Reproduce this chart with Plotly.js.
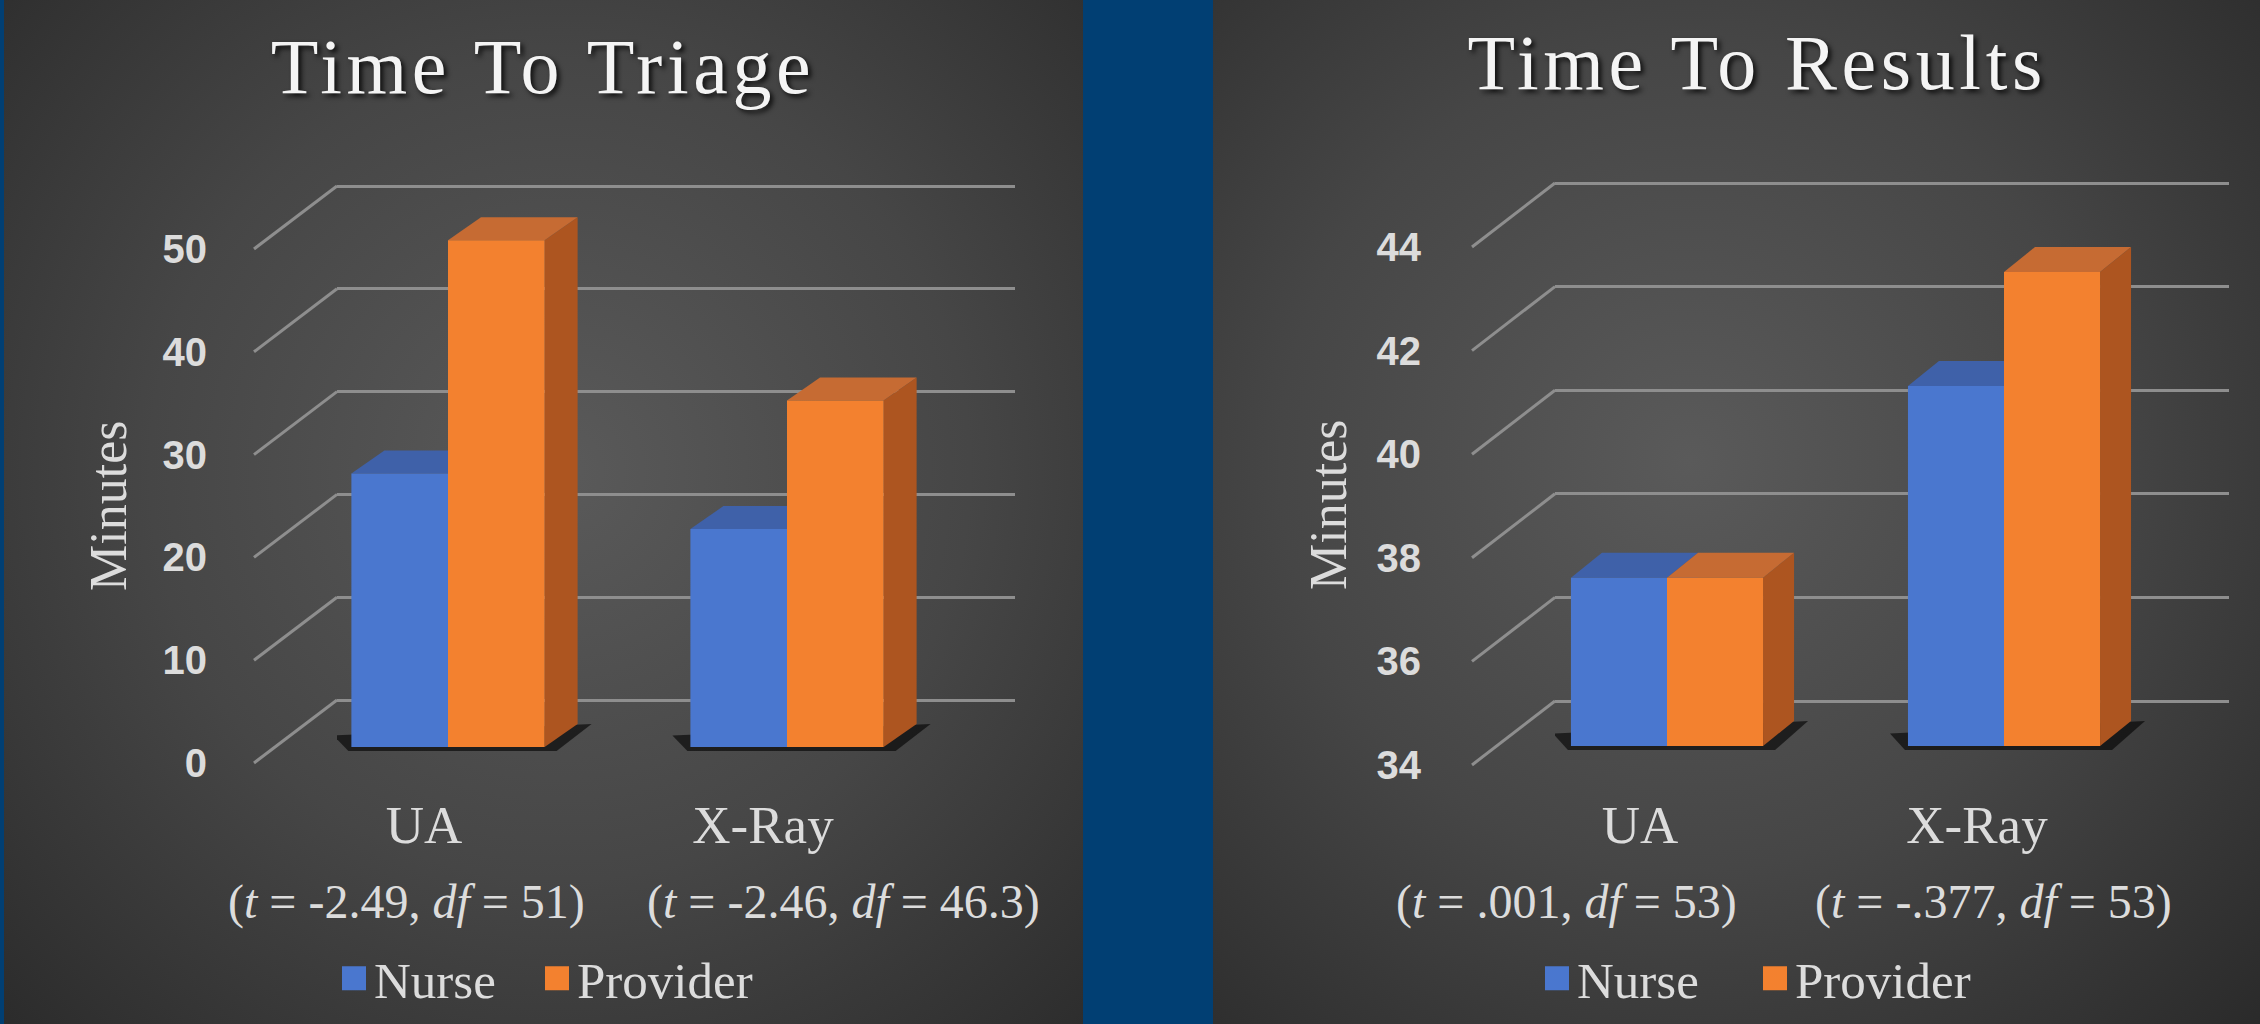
<!DOCTYPE html>
<html>
<head>
<meta charset="utf-8">
<script src="https://cdn.plot.ly/plotly-3.0.1.min.js"></script>
<style>
  html, body { margin: 0; padding: 0; background: #013f73; }
  #chart { width: 2260px; height: 1024px; }
  .annotation[data-index="0"] text, .annotation[data-index="1"] text { letter-spacing: 4.6px; }
</style>
</head>
<body>
<div id="chart"></div>
<script>
// ---------------- data ----------------
const categories = ['UA', 'X-Ray'];
const seriesNames = ['Nurse', 'Provider'];
const titles = ['Time To Triage', 'Time To Results'];
const yTitle = 'Minutes';

const triageNurse = [26.6, 21.2];
const triageProvider = [49.3, 33.7];
const triageTicks = [0, 10, 20, 30, 40, 50];
const triageStats = ['(<i>t</i> = -2.49, <i>df</i> = 51)', '(<i>t</i> = -2.46, <i>df</i> = 46.3)'];

const resultsNurse = [37.25, 40.95];
const resultsProvider = [37.25, 43.15];
const resultsTicks = [34, 36, 38, 40, 42, 44];
const resultsStats = ['(<i>t</i> = .001, <i>df</i> = 53)', '(<i>t</i> = -.377, <i>df</i> = 53)'];

// ---------------- styles / geometry ----------------
const W = 2260, H = 1024;
const DOMAIN_TOP_PX = 170, DOMAIN_BOTTOM_PX = 780;
const BARGAP = 0.43;
const GRID_COLOR = '#8e8e8e';
const TEXT_COLOR = '#dcdcdc';
const TITLE_COLOR = '#f4f4f4';
const SERIF = '"Liberation Serif", "Times New Roman", serif';
const SANS = '"Liberation Sans", Arial, sans-serif';
const COLORS = [
  { front: '#4a77cf', top: '#3f61a9', side: '#2f4f8f' },
  { front: '#f3812f', top: '#c66b33', side: '#ad5520' }
];

const geom = [
  { gridLeft: 337, gridRight: 1015, frontX: 254, backMinPx: 700, frontMinPx: 763, barMinPx: 747,
    pxPerUnit: 10.28, firstCatPx: 448, catPx: 339, depthX: 33, depthY: 23, labelShift: -24,
    tickRightPx: 207, titleX: 543, titleY: 66, yTitleX: 108, yTitleY: 506,
    statXs: [406, 843], statY: 902, legendX: 334, legendNurseWidth: 158,
    bgLeft: 4, bgRight: 1083, bgCx: 556, bgCy: 470 },
  { gridLeft: 1555, gridRight: 2229, frontX: 1472, backMinPx: 701, frontMinPx: 765, barMinPx: 746,
    pxPerUnit: 51.8, firstCatPx: 1667, catPx: 337, depthX: 31, depthY: 25, labelShift: -27,
    tickRightPx: 1421, titleX: 1757, titleY: 62, yTitleX: 1328, yTitleY: 505,
    statXs: [1566, 1993], statY: 902, legendX: 1537, legendNurseWidth: 173,
    bgLeft: 1213, bgRight: 2260, bgCx: 477, bgCy: 460 }
];

const charts = [
  { title: titles[0], ticks: triageTicks, series: [triageNurse, triageProvider], stats: triageStats,
    x: 'x', gy: 'y', by: 'y3', legend: 'legend' },
  { title: titles[1], ticks: resultsTicks, series: [resultsNurse, resultsProvider], stats: resultsStats,
    x: 'x2', gy: 'y2', by: 'y4', legend: 'legend2' }
];

function panelBackground(w, h, cx, cy, r) {
  const c = document.createElement('canvas');
  c.width = w; c.height = h;
  const g = c.getContext('2d');
  const grd = g.createRadialGradient(cx, cy, 0, cx, cy, r);
  grd.addColorStop(0, '#5a5a5a');
  grd.addColorStop(0.5, '#464646');
  grd.addColorStop(1, '#292929');
  g.fillStyle = grd;
  g.fillRect(0, 0, w, h);
  return c.toDataURL('image/png');
}

const traces = [];
const shapes = [];
const annotations = [];
const images = [];
const layout = {
  width: W, height: H, autosize: false,
  margin: { l: 0, r: 0, t: 0, b: 0, pad: 0 },
  paper_bgcolor: '#013f73',
  plot_bgcolor: 'rgba(0,0,0,0)',
  barmode: 'group', bargap: BARGAP, bargroupgap: 0,
  hovermode: false,
  showlegend: true
};

const yDomain = [1 - DOMAIN_BOTTOM_PX / H, 1 - DOMAIN_TOP_PX / H];

charts.forEach((ch, k) => {
  const g = geom[k];
  const axisMin = ch.ticks[0];
  const gridVal = px => axisMin + (g.backMinPx - px) / g.pxPerUnit;
  const barVal = px => axisMin + (g.barMinPx - px) / g.pxPerUnit;
  // bar-plane value -> grid (back wall) axis value
  const barToGrid = v => v - (g.barMinPx - g.backMinPx) / g.pxPerUnit;
  const r0 = -(g.firstCatPx - g.gridLeft) / g.catPx;
  const r1 = r0 + (g.gridRight - g.gridLeft) / g.catPx;
  const xKey = 'xaxis' + (ch.x === 'x' ? '' : ch.x.slice(1));
  const gyKey = 'yaxis' + (ch.gy === 'y' ? '' : ch.gy.slice(1));
  const byKey = 'yaxis' + ch.by.slice(1);

  layout[xKey] = {
    domain: [g.gridLeft / W, g.gridRight / W], anchor: ch.gy,
    type: 'category', categoryorder: 'array', categoryarray: categories,
    range: [r0, r1], showgrid: false, zeroline: false, showline: false, ticks: '',
    tickfont: { family: SERIF, size: 53, color: TEXT_COLOR },
    ticklabelshift: g.labelShift, ticklabelstandoff: 9, fixedrange: true
  };
  layout[gyKey] = {
    domain: yDomain, anchor: ch.x, range: [gridVal(DOMAIN_BOTTOM_PX), gridVal(DOMAIN_TOP_PX)],
    tickmode: 'array', tickvals: ch.ticks, ticktext: ch.ticks.map(String),
    showgrid: true, gridcolor: GRID_COLOR, gridwidth: 3, zeroline: false, showline: false, ticks: '',
    tickfont: { family: SANS, size: 40, color: TEXT_COLOR, weight: 700 },
    ticklabelshift: (g.frontMinPx - g.backMinPx),
    ticklabelstandoff: g.gridLeft - g.tickRightPx - 1, fixedrange: true
  };
  layout[byKey] = {
    overlaying: ch.gy, anchor: ch.x, visible: false,
    range: [barVal(DOMAIN_BOTTOM_PX), barVal(DOMAIN_TOP_PX)], fixedrange: true
  };

  // bars
  ch.series.forEach((vals, s) => {
    const tr = {
      type: 'bar', name: seriesNames[s], x: categories,
      y: vals.map(v => v - axisMin), base: axisMin,
      xaxis: ch.x, yaxis: ch.by, legend: ch.legend,
      marker: { color: COLORS[s].front, line: { width: 0 } }
    };
    if (s === 0) tr.legendwidth = g.legendNurseWidth;
    traces.push(tr);
  });

  // diagonal part of the 3-D gridlines (back wall -> front floor edge)
  const drop = (g.frontMinPx - g.backMinPx) / g.pxPerUnit;
  ch.ticks.forEach(v => {
    shapes.push({ type: 'line', layer: 'below', xref: 'paper', yref: ch.gy,
      x0: g.frontX / W, y0: v - drop, x1: g.gridLeft / W, y1: v,
      line: { color: GRID_COLOR, width: 3 } });
  });

  // 3-D faces of the bars (drawn between gridlines and bars)
  const wBar = (1 - BARGAP) / 2;
  const ddx = g.depthX / g.catPx;
  const ddy = g.depthY / g.pxPerUnit;
  const pxX = 1 / g.catPx, pxY = 1 / g.pxPerUnit;
  categories.forEach((c, i) => {
    const xl = i - wBar, xr = i + wBar, b = barToGrid(axisMin);
    shapes.push({ type: 'path', layer: 'between', xref: ch.x, yref: ch.gy,
      path: `M${xl - 3 * pxX},${b - 4 * pxY} L${xr + 12 * pxX},${b - 4 * pxY} ` +
            `L${xr + ddx + 14 * pxX},${b + ddy} L${xl - 18 * pxX},${b + 0.5 * ddy} Z`,
      fillcolor: 'rgba(0,0,0,0.6)', line: { width: 0 } });
  });
  ch.series.forEach((vals, s) => {
    vals.forEach((v, i) => {
      const xl = i - wBar + s * wBar, xr = xl + wBar, b = barToGrid(axisMin), t = barToGrid(v);
      shapes.push({ type: 'path', layer: 'between', xref: ch.x, yref: ch.gy,
        path: `M${xr},${b} L${xr + ddx},${b + ddy} L${xr + ddx},${t + ddy} L${xr},${t} Z`,
        fillcolor: COLORS[s].side, line: { width: 0 } });
      shapes.push({ type: 'path', layer: 'between', xref: ch.x, yref: ch.gy,
        path: `M${xl},${t} L${xr},${t} L${xr + ddx},${t + ddy} L${xl + ddx},${t + ddy} Z`,
        fillcolor: COLORS[s].top, line: { width: 0 } });
    });
  });

  // legend
  layout[ch.legend] = {
    orientation: 'h', x: g.legendX / W, xanchor: 'left', y: 1 - 938.5 / H, yanchor: 'top',
    font: { family: SERIF, size: 51, color: TEXT_COLOR },
    bgcolor: 'rgba(0,0,0,0)', borderwidth: 0, itemclick: false, itemdoubleclick: false
  };

  // background panel
  images.push({ source: panelBackground(g.bgRight - g.bgLeft, H, g.bgCx, g.bgCy, 820),
    xref: 'paper', yref: 'paper', x: g.bgLeft / W, y: 1, sizex: (g.bgRight - g.bgLeft) / W, sizey: 1,
    xanchor: 'left', yanchor: 'top', sizing: 'stretch', layer: 'below' });
});

// annotations: titles (0,1), y titles (2,3), stats (4-7)
charts.forEach((ch, k) => {
  const g = geom[k];
  annotations[k] = { text: ch.title, xref: 'paper', yref: 'paper', x: g.titleX / W, y: 1 - g.titleY / H,
    xanchor: 'center', yanchor: 'middle', showarrow: false,
    font: { family: SERIF, size: 78, color: TITLE_COLOR, shadow: '3px 3px 5px rgba(0,0,0,0.8)' } };
  annotations[2 + k] = { text: yTitle, xref: 'paper', yref: 'paper', x: g.yTitleX / W, y: 1 - g.yTitleY / H,
    xanchor: 'center', yanchor: 'middle', showarrow: false, textangle: -90,
    font: { family: SERIF, size: 52, color: TEXT_COLOR } };
  ch.stats.forEach((txt, i) => {
    annotations[4 + 2 * k + i] = { text: txt, xref: 'paper', yref: 'paper', x: g.statXs[i] / W, y: 1 - g.statY / H,
      xanchor: 'center', yanchor: 'middle', showarrow: false,
      font: { family: SERIF, size: 48, color: TEXT_COLOR } };
  });
});

layout.shapes = shapes;
layout.annotations = annotations;
layout.images = images;

Plotly.newPlot('chart', traces, layout, { staticPlot: true, displayModeBar: false }).then(gd => {
  // enlarge the legend swatches to match the reference
  gd.querySelectorAll('g.legendpoints path').forEach(p => p.setAttribute('d', 'M12,12H-12V-12H12Z'));
});
</script>
</body>
</html>
